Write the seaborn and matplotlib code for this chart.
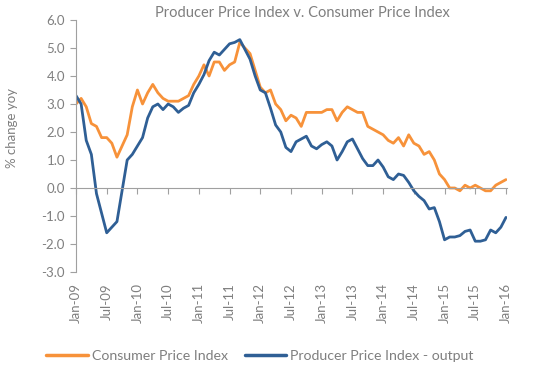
import seaborn as sns
import pandas as pd
import matplotlib.pyplot as plt

# monthly yoy % change, Jan-09 .. Jan-16
cpi = [3.0, 3.2, 2.9, 2.3, 2.2, 1.8, 1.8, 1.6, 1.1, 1.5, 1.9, 2.9,
       3.5, 3.0, 3.4, 3.7, 3.4, 3.2, 3.1, 3.1, 3.1, 3.2, 3.3, 3.7,
       4.0, 4.4, 4.0, 4.5, 4.5, 4.2, 4.4, 4.5, 5.2, 5.0, 4.8, 4.2,
       3.6, 3.4, 3.5, 3.0, 2.8, 2.4, 2.6, 2.5, 2.2, 2.7, 2.7, 2.7,
       2.7, 2.8, 2.8, 2.4, 2.7, 2.9, 2.8, 2.7, 2.7, 2.2, 2.1, 2.0,
       1.9, 1.7, 1.6, 1.8, 1.5, 1.9, 1.6, 1.5, 1.2, 1.3, 1.0, 0.5,
       0.3, 0.0, 0.0, -0.1, 0.1, 0.0, 0.1, 0.0, -0.1, -0.1, 0.1, 0.2,
       0.3]
ppi = [3.3, 3.0, 1.7, 1.2, -0.2, -0.9, -1.6, -1.4, -1.2, -0.1, 1.0, 1.2,
       1.5, 1.8, 2.5, 2.9, 3.0, 2.8, 3.0, 2.9, 2.7, 2.85, 2.95, 3.4,
       3.7, 4.05, 4.55, 4.85, 4.75, 4.95, 5.15, 5.2, 5.3, 4.95, 4.6, 4.0,
       3.5, 3.4, 2.85, 2.25, 2.0, 1.45, 1.3, 1.65, 1.75, 1.85, 1.5, 1.4,
       1.55, 1.65, 1.5, 1.0, 1.3, 1.65, 1.75, 1.4, 1.05, 0.8, 0.8, 1.0,
       0.75, 0.4, 0.3, 0.5, 0.45, 0.2, -0.1, -0.3, -0.45, -0.75, -0.7, -1.2,
       -1.85, -1.75, -1.75, -1.7, -1.55, -1.5, -1.9, -1.9, -1.85, -1.5, -1.6, -1.4,
       -1.05]
tick_labels = ["Jan-09", "Jul-09", "Jan-10", "Jul-10", "Jan-11", "Jul-11", "Jan-12",
               "Jul-12", "Jan-13", "Jul-13", "Jan-14", "Jul-14", "Jan-15", "Jul-15", "Jan-16"]

months = list(range(len(cpi)))
df = pd.DataFrame({
    "month": months * 2,
    "value": cpi + ppi,
    "series": ["Consumer Price Index"] * len(cpi) + ["Producer Price Index - output"] * len(ppi),
})

sns.set_style("white")
plt.rcParams["font.family"] = ["Lato", "DejaVu Sans"]
grey = "#7f7f7f"
axis_grey = "#a0a0a0"

fig = plt.figure(figsize=(5.5, 3.75), dpi=100)
ax = fig.add_axes([76 / 550, 1 - 272 / 375, (507 - 76) / 550, (272 - 20) / 375])

sns.lineplot(data=df, x="month", y="value", hue="series",
             palette=["#f7923a", "#2f5f95"], linewidth=2.0, ax=ax, legend=False)

ax.set_ylim(-3, 6)
ax.set_xlim(0, 84.2)
ax.set_yticks(range(-3, 7))
ax.set_yticklabels([f"{v:.1f}" for v in range(-3, 7)], color=grey, fontsize=9.5)
ax.set_xlabel("")
ax.set_ylabel("")

for s in ["top", "right"]:
    ax.spines[s].set_visible(False)
ax.spines["left"].set_color(axis_grey)
ax.spines["bottom"].set_color(axis_grey)
ax.spines["bottom"].set_position(("data", 0))
ax.tick_params(axis="y", length=4, color=axis_grey, direction="out", left=True, pad=4)
ax.set_xticks(range(0, 85, 6))
ax.tick_params(axis="x", length=4, color=axis_grey, direction="out", bottom=True, labelbottom=False)

sec = ax.secondary_xaxis("bottom")
sec.set_xticks(range(0, 85, 6))
sec.set_xticklabels(tick_labels, rotation=90, color=grey, fontsize=9.5)
sec.tick_params(length=0, pad=8)
sec.spines["bottom"].set_visible(False)

fig.text(302 / 550, 1 - 13 / 375, "Producer Price Index v. Consumer Price Index",
         ha="center", va="center", color=grey, fontsize=10.5)
fig.text(12 / 550, 1 - 128 / 375, "% change yoy", rotation=90,
         ha="center", va="center", color=grey, fontsize=9.5)

handles = [plt.Line2D([], [], color="#f7923a", lw=2.5),
           plt.Line2D([], [], color="#2f5f95", lw=2.5)]
fig.legend(handles, ["Consumer Price Index", "Producer Price Index - output"],
           loc="center", bbox_to_anchor=(260 / 550, 1 - 356 / 375), ncol=2,
           frameon=False, labelcolor=grey, fontsize=10.2, handlelength=2.9,
           columnspacing=1.2, handletextpad=0.3)

fig.savefig("out.png", dpi=100)
